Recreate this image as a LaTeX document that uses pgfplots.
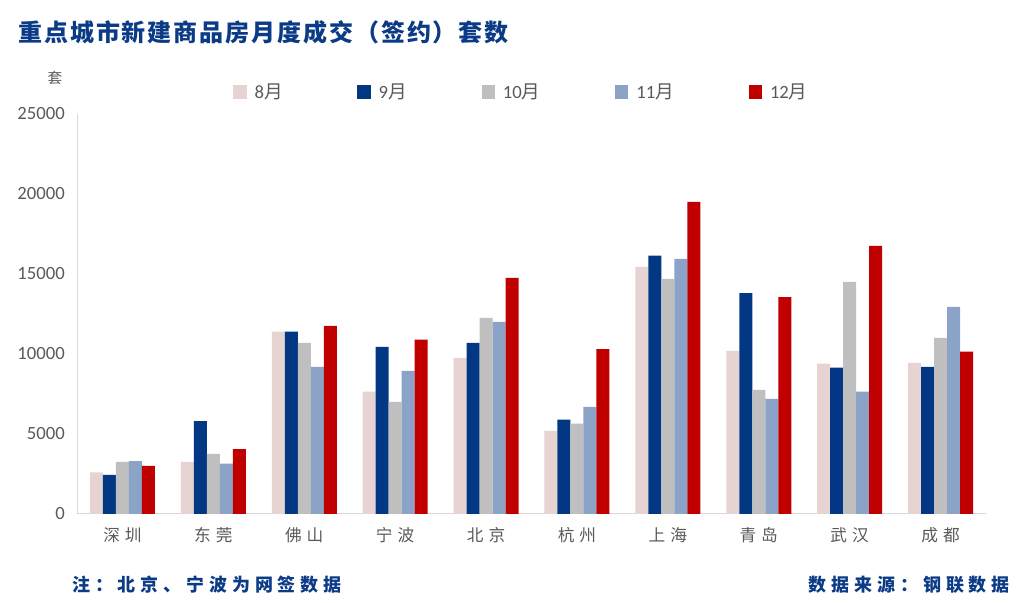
\documentclass[border=0pt]{standalone}
\usepackage{pgfplots}
\pgfplotsset{compat=1.18}
\usepackage{fontspec}
\setmainfont{Carlito}
\newfontfamily\cjk{Noto Sans CJK SC}
\newfontfamily\cjkls[LetterSpace=30]{Noto Sans CJK SC}
\newfontfamily\cjktitle[LetterSpace=8]{Noto Sans CJK SC}
\newfontfamily\cjkfoot[LetterSpace=27]{Noto Sans CJK SC}
\definecolor{c8}{HTML}{E8D3D3}
\definecolor{c9}{HTML}{023883}
\definecolor{c10}{HTML}{BFBFBF}
\definecolor{c11}{HTML}{8BA3C7}
\definecolor{c12}{HTML}{C00000}
\definecolor{tickgray}{HTML}{595959}
\definecolor{axisgray}{HTML}{D9D9D9}
\definecolor{titleblue}{HTML}{0B3A86}
\begin{document}
\begin{tikzpicture}[x=0.75pt,y=0.75pt]
\path (0,0) rectangle (1025,603);
\begin{axis}[
  at={(57.75pt,66.75pt)}, anchor=south west,
  scale only axis, width=681.75pt, height=300pt,
  xmin=-0.5, xmax=9.5, ymin=0, ymax=25000,
  ytick={0,5000,10000,15000,20000,25000},
  xtick={0,1,2,3,4,5,6,7,8,9},
  xticklabels={深圳,东莞,佛山,宁波,北京,杭州,上海,青岛,武汉,成都},
  ybar=0pt, bar width=9.75pt,
  axis x line*=bottom, axis y line*=left,
  axis line style={draw=axisgray, line width=0.75pt, -},
  major tick length=0pt,
  scaled y ticks=false,
  /pgf/number format/assume math mode=true,
  /pgf/number format/1000 sep={},
  tick label style={text=tickgray},
  yticklabel style={font=\fontsize{14}{14}\selectfont, inner sep=0pt, xshift=-9pt},
  xticklabel style={font=\cjkls\fontsize{12.5}{12.5}\selectfont, inner sep=0pt, yshift=-10pt},
  legend columns=5,
  legend style={at={(0.1716,1.055)}, anchor=west, draw=none, fill=none, inner sep=0pt,
    font=\fontsize{14}{14}\selectfont, text=tickgray,
    nodes={inner sep=0pt},
    /tikz/every odd column/.append style={column sep=6pt},
    /tikz/every even column/.append style={column sep=56pt}},
  legend image code/.code={\fill[#1,draw=none] (0pt,-5pt) rectangle (10pt,5pt);},
]
\addplot[fill=c8, draw=none] coordinates {(0,2600) (1,3250) (2,11400) (3,7650) (4,9750) (5,5200) (6,15450) (7,10200) (8,9400) (9,9450)};
\addplot[fill=c9, draw=none] coordinates {(0,2450) (1,5800) (2,11400) (3,10450) (4,10700) (5,5900) (6,16150) (7,13800) (8,9150) (9,9200)};
\addplot[fill=c10, draw=none] coordinates {(0,3250) (1,3750) (2,10700) (3,7000) (4,12250) (5,5650) (6,14700) (7,7750) (8,14500) (9,11000)};
\addplot[fill=c11, draw=none] coordinates {(0,3300) (1,3150) (2,9200) (3,8950) (4,12000) (5,6700) (6,15950) (7,7200) (8,7650) (9,12950)};
\addplot[fill=c12, draw=none] coordinates {(0,3000) (1,4050) (2,11750) (3,10900) (4,14750) (5,10300) (6,19500) (7,13550) (8,16750) (9,10150)};
\legend{8{\cjk 月},9{\cjk 月},10{\cjk 月},11{\cjk 月},12{\cjk 月}}
\end{axis}
\node[anchor=west, inner sep=0pt, text=titleblue, font=\cjktitle\bfseries\fontsize{18}{18}\selectfont] at (18,571) {重点城市新建商品房月度成交（签约）套数};
\node[inner sep=0pt, text=tickgray, font=\cjk\fontsize{11}{11}\selectfont] at (55,525) {套};
\node[anchor=west, inner sep=0pt, text=titleblue, font=\cjkfoot\bfseries\fontsize{13.5}{13.5}\selectfont] at (72,18) {注：北京、宁波为网签数据};
\node[anchor=east, inner sep=0pt, text=titleblue, font=\cjkfoot\bfseries\fontsize{13.5}{13.5}\selectfont] at (1010,18) {数据来源：钢联数据};
\end{tikzpicture}
\end{document}
